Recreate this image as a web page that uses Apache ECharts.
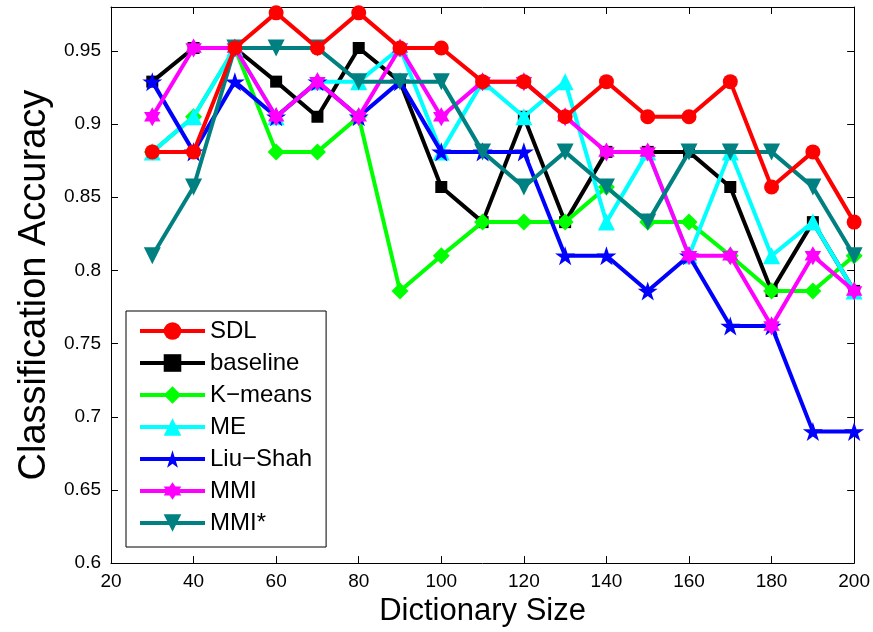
<!DOCTYPE html>
<html>
<head>
<meta charset="utf-8">
<script src="https://cdn.jsdelivr.net/npm/echarts@6/dist/echarts.min.js"></script>
<style>html,body{margin:0;padding:0;background:#fff;}#c{width:873px;height:632px;}</style>
</head>
<body>
<div id="c"></div>
<script>
// Data
var dictSizes = [30, 40, 50, 60, 70, 80, 90, 100, 110, 120, 130, 140, 150, 160, 170, 180, 190, 200];
var seriesNames = ['SDL', 'baseline', 'K\u2212means', 'ME', 'Liu\u2212Shah', 'MMI', 'MMI*'];
var sdl      = [0.881, 0.881, 0.952, 0.976, 0.952, 0.976, 0.952, 0.952, 0.929, 0.929, 0.905, 0.929, 0.905, 0.905, 0.929, 0.857, 0.881, 0.833];
var baseline = [0.929, 0.952, 0.952, 0.929, 0.905, 0.952, 0.929, 0.857, 0.833, 0.905, 0.833, 0.881, 0.881, 0.881, 0.857, 0.786, 0.833, 0.786];
var kmeans   = [0.881, 0.905, 0.952, 0.881, 0.881, 0.905, 0.786, 0.810, 0.833, 0.833, 0.833, 0.857, 0.833, 0.833, 0.810, 0.786, 0.786, 0.810];
var me       = [0.881, 0.905, 0.952, 0.905, 0.929, 0.929, 0.952, 0.881, 0.929, 0.905, 0.929, 0.833, 0.881, 0.810, 0.881, 0.810, 0.833, 0.786];
var liuShah  = [0.929, 0.881, 0.929, 0.905, 0.929, 0.905, 0.929, 0.881, 0.881, 0.881, 0.810, 0.810, 0.786, 0.810, 0.762, 0.762, 0.690, 0.690];
var mmi      = [0.905, 0.952, 0.952, 0.905, 0.929, 0.905, 0.952, 0.905, 0.929, 0.929, 0.905, 0.881, 0.881, 0.810, 0.810, 0.762, 0.810, 0.786];
var mmiStar  = [0.810, 0.857, 0.952, 0.952, 0.952, 0.929, 0.929, 0.929, 0.881, 0.857, 0.881, 0.857, 0.833, 0.881, 0.881, 0.881, 0.857, 0.810];
var xTicks = [20, 40, 60, 80, 100, 120, 140, 160, 180, 200];
var yTicks = [0.6, 0.65, 0.7, 0.75, 0.8, 0.85, 0.9, 0.95];

var values = [sdl, baseline, kmeans, me, liuShah, mmi, mmiStar];
var colors = ['#ff0000', '#000000', '#00ff00', '#00ffff', '#0000ff', '#ff00ff', '#008080'];
var PENTAGRAM = 'path://M50,0L61.2,34.5L97.6,34.5L68.2,55.9L79.4,90.5L50,69.1L20.6,90.5L31.8,55.9L2.4,34.5L38.8,34.5Z';
var HEXAGRAM = 'path://M50,0L64.4,25L93.3,25L78.9,50L93.3,75L64.4,75L50,100L35.6,75L6.7,75L21.1,50L6.7,25L35.6,25Z';
var symbols = ['circle', 'rect', 'diamond', 'triangle', PENTAGRAM, HEXAGRAM, 'triangle'];
var symSizes = [15, 12, 17, 17, 20, 19, 17];
var symRot = [0, 0, 0, 0, 0, 0, 180];
var zOrder = [20, 2, 3, 4, 5, 6, 7];

var FONT = '"Liberation Sans", Arial, Helvetica, sans-serif';

var series = seriesNames.map(function (name, i) {
  return {
    name: name,
    type: 'line',
    xAxisIndex: 0,
    yAxisIndex: 0,
    data: dictSizes.map(function (x, j) { return [x, values[i][j]]; }),
    symbol: symbols[i],
    symbolSize: symSizes[i],
    symbolRotate: symRot[i],
    symbolKeepAspect: true,
    showAllSymbol: true,
    z: zOrder[i],
    lineStyle: { color: colors[i], width: 4 },
    itemStyle: { color: colors[i], borderColor: colors[i], borderWidth: 0 },
    emphasis: { disabled: true },
    animation: false
  };
});

function fmtY(v) {
  for (var k = 0; k < yTicks.length; k++) {
    if (Math.abs(v - yTicks[k]) < 1e-6) return String(yTicks[k]);
  }
  return '';
}
function fmtX(v) {
  for (var k = 0; k < xTicks.length; k++) {
    if (Math.abs(v - xTicks[k]) < 1e-6) return String(xTicks[k]);
  }
  return '';
}

var axisCommonX = {
  type: 'value', min: 20, max: 200, interval: 20,
  axisLine: { show: true, lineStyle: { color: '#000', width: 1 } },
  axisTick: { show: true, inside: true, length: 7, lineStyle: { color: '#000' } },
  splitLine: { show: false }
};
var axisCommonY = {
  type: 'value', min: 0.6, max: 0.98, interval: 0.05,
  axisLine: { show: true, lineStyle: { color: '#000', width: 1 } },
  axisTick: { show: true, inside: true, length: 7, lineStyle: { color: '#000' } },
  splitLine: { show: false }
};

var option = {
  backgroundColor: '#ffffff',
  animation: false,
  grid: { left: 111, right: 14, top: 7, bottom: 63, containLabel: false },
  xAxis: [
    Object.assign({}, axisCommonX, {
      position: 'bottom',
      name: 'Dictionary Size', nameLocation: 'middle', nameGap: 31,
      nameTextStyle: { fontFamily: FONT, fontSize: 31, color: '#000' },
      axisLabel: { show: true, margin: 9, fontFamily: FONT, fontSize: 19, color: '#000', formatter: fmtX }
    }),
    Object.assign({}, axisCommonX, {
      position: 'top',
      axisLabel: { show: false }
    })
  ],
  yAxis: [
    Object.assign({}, axisCommonY, {
      position: 'left',
      name: 'Classification Accuracy', nameLocation: 'middle', nameGap: 56, nameRotate: 90,
      nameTextStyle: { fontFamily: FONT, fontSize: 38, color: '#000' },
      axisLabel: { show: true, margin: 10, fontFamily: FONT, fontSize: 19, color: '#000', formatter: fmtY }
    }),
    Object.assign({}, axisCommonY, {
      position: 'right',
      axisLabel: { show: false }
    })
  ],
  legend: {
    show: true,
    data: seriesNames,
    orient: 'vertical',
    left: 126,
    top: 311,
    itemWidth: 65,
    itemHeight: 22,
    itemGap: 8,
    padding: [8, 14, 12, 12],
    backgroundColor: '#ffffff',
    borderColor: '#000000',
    borderWidth: 1,
    borderRadius: 0,
    selectedMode: false,
    lineStyle: { width: 4 },
    textStyle: { fontFamily: FONT, fontSize: 24, lineHeight: 22, color: '#000' }
  },
  series: series
};

var chart = echarts.init(document.getElementById('c'), null, { renderer: 'canvas' });
chart.setOption(option);
</script>
</body>
</html>
